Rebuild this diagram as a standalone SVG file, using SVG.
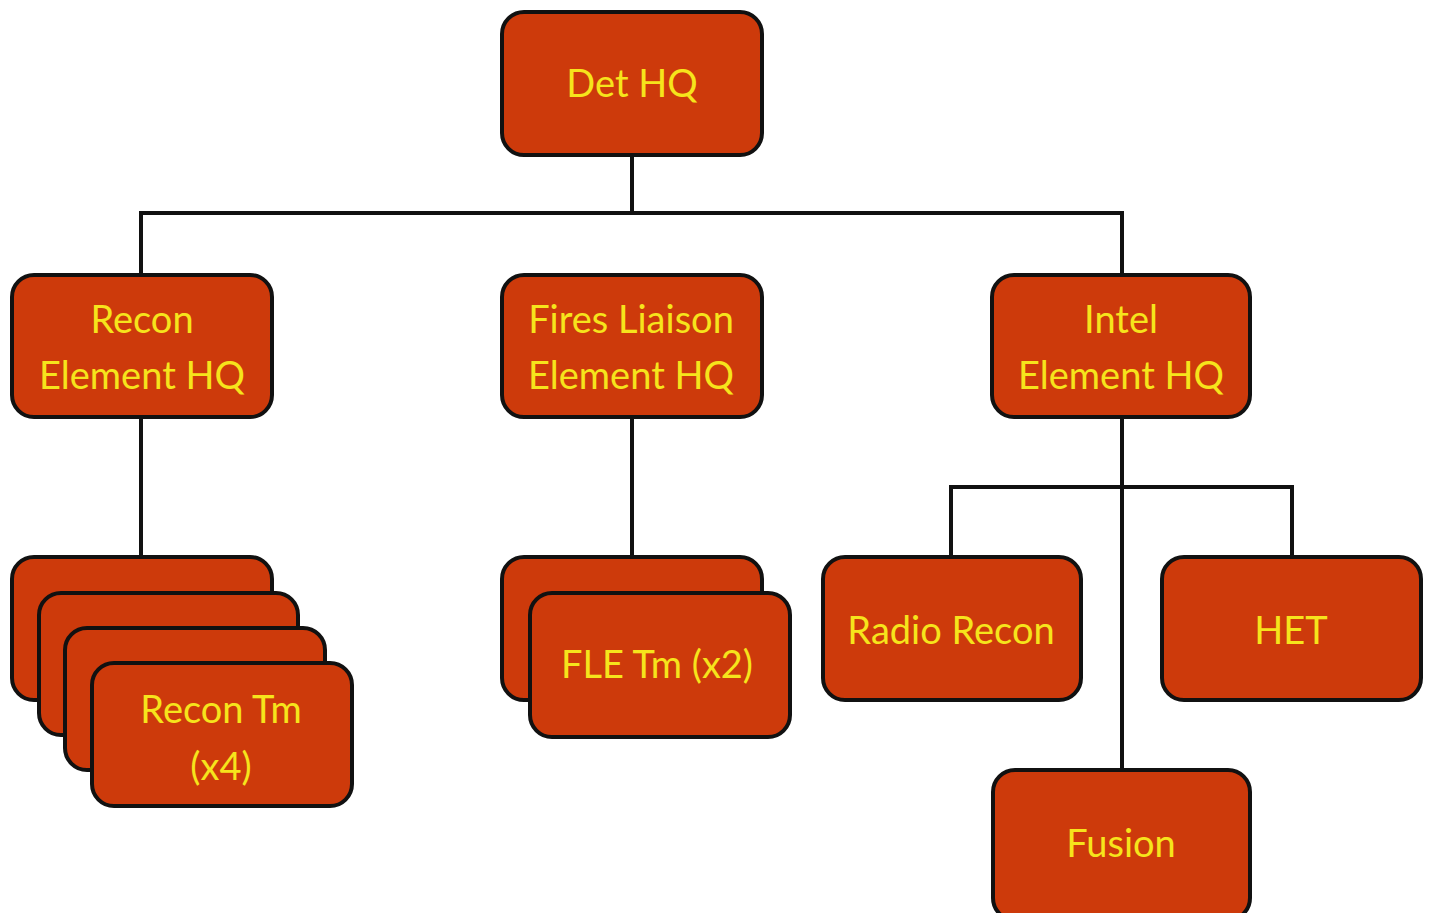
<svg xmlns="http://www.w3.org/2000/svg" width="1434" height="913" viewBox="0 0 1434 913">
<style>
.box{fill:#CD3A0B;stroke:#111;stroke-width:4}
.t{fill:#F6E41C;font-family:Lato,"Liberation Sans",sans-serif;font-size:38px;text-anchor:middle}
.c{fill:none;stroke:#111;stroke-width:4}
</style>
<rect width="1434" height="913" fill="#fff"/>
<g id="connectors">
<path class="c" d="M632 155V213M141 275V213H1122V275"/>
<path class="c" d="M141 417V557"/>
<path class="c" d="M632 417V557"/>
<path class="c" d="M1122 417V770M951 557V487H1292V557"/>
</g>
<g id="det-hq"><rect class="box" x="502" y="12" width="260" height="143" rx="22"/><text class="t" x="632" y="97">Det HQ</text></g>
<g id="recon-hq"><rect class="box" x="12" y="275" width="260" height="142" rx="22"/><text class="t" x="142" y="333">Recon</text><text class="t" x="142" y="389">Element HQ</text></g>
<g id="fires-hq"><rect class="box" x="502" y="275" width="260" height="142" rx="22"/><text class="t" x="631" y="333">Fires Liaison</text><text class="t" x="631" y="389">Element HQ</text></g>
<g id="intel-hq"><rect class="box" x="992" y="275" width="258" height="142" rx="22"/><text class="t" x="1121" y="333">Intel</text><text class="t" x="1121" y="389">Element HQ</text></g>
<g id="recon-tm">
<rect class="box" x="12" y="557" width="260" height="143" rx="22"/>
<rect class="box" x="39" y="593" width="259" height="142" rx="22"/>
<rect class="box" x="65" y="628" width="260" height="142" rx="22"/>
<rect class="box" x="92" y="663" width="260" height="143" rx="22"/>
<text class="t" x="221" y="723">Recon Tm</text><text class="t" x="221" y="780">(x4)</text>
</g>
<g id="fle-tm">
<rect class="box" x="502" y="557" width="260" height="143" rx="22"/>
<rect class="box" x="530" y="593" width="260" height="144" rx="22"/>
<text class="t" x="657" y="678">FLE Tm (x2)</text>
</g>
<g id="radio-recon"><rect class="box" x="823" y="557" width="258" height="143" rx="22"/><text class="t" x="951" y="644">Radio Recon</text></g>
<g id="het"><rect class="box" x="1162" y="557" width="259" height="143" rx="22"/><text class="t" x="1291" y="644">HET</text></g>
<g id="fusion"><rect class="box" x="993" y="770" width="257" height="150" rx="22"/><text class="t" x="1121" y="857">Fusion</text></g>
</svg>
